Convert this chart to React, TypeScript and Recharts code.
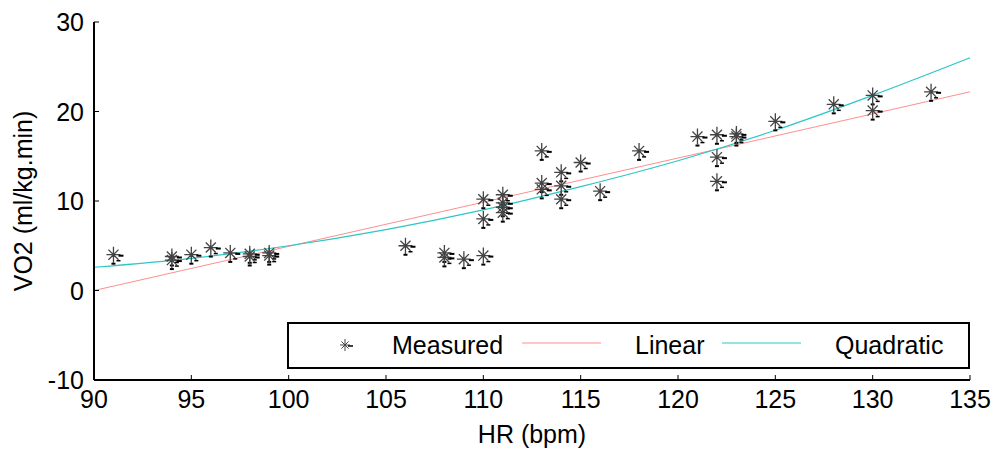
import { ComposedChart, Scatter, Line, XAxis, YAxis, Legend, Label } from "recharts";

// measured points (HR in bpm, VO2 in ml/kg.min)
const hrMeasured = [91, 94, 94, 95, 96, 97, 98, 98, 99, 99, 106, 108, 108, 109, 110, 110, 110, 111, 111, 111, 111, 113, 113, 113, 114, 114, 114, 115, 116, 118, 121, 122, 122, 122, 123, 123, 125, 128, 130, 130, 133];
const vo2Measured = [4.0, 3.8, 3.4, 4.0, 4.8, 4.2, 4.1, 3.8, 4.2, 3.9, 5.0, 4.2, 3.7, 3.5, 3.9, 10.2, 8.0, 10.7, 9.8, 9.3, 8.7, 15.6, 12.0, 11.3, 13.2, 11.7, 10.2, 14.3, 11.1, 15.6, 17.2, 17.4, 14.9, 12.2, 17.5, 17.2, 18.9, 20.8, 21.8, 20.1, 22.2];

// fitted curves
const linearHr = [90, 135];
const linearVo2 = [0.0, 22.2];
const quadHr = [90, 95, 100, 105, 110, 115, 120, 125, 130, 135];
const quadVo2 = [2.6, 3.6, 5.0, 6.8, 9.0, 11.6, 14.5, 17.9, 21.8, 26.0];

const xTicks = [90, 95, 100, 105, 110, 115, 120, 125, 130, 135];
const yTicks = [-10, 0, 10, 20, 30];

const measured = hrMeasured.map((x, i) => ({ x, y: vo2Measured[i] }));
const linear = linearHr.map((x, i) => ({ x, y: linearVo2[i] }));
const quadratic = quadHr.map((x, i) => ({ x, y: quadVo2[i] }));

const FONT = '"Liberation Sans", Arial, sans-serif';
const RED = "#ff8e8e";
const CYAN = "#2cc6c6";

const BottomTick = ({ x, y, payload }: any) => (
  <g>
    <line x1={x} x2={x} y1={y} y2={y - 5} stroke="#000" />
    <text x={x} y={y + 28} textAnchor="middle" fontSize={25} fill="#000" fontFamily={FONT}>
      {payload.value}
    </text>
  </g>
);

const LeftTick = ({ x, y, payload }: any) => (
  <g>
    <line x1={x} x2={x + 5} y1={y} y2={y} stroke="#000" />
    <text x={x - 10} y={y + 9} textAnchor="end" fontSize={25} fill="#000" fontFamily={FONT}>
      {payload.value}
    </text>
  </g>
);

const TopTick = ({ x, y }: any) => <line x1={x} x2={x} y1={y} y2={y + 5} stroke="#000" />;
const RightTick = ({ x, y }: any) => <line x1={x} x2={x - 5} y1={y} y2={y} stroke="#000" />;

function starPath(cx: number, cy: number, r: number) {
  const d = r * 0.72;
  return `M${cx - r},${cy}H${cx + r}M${cx},${cy - r - 1}V${cy + r + 1}M${cx - d},${cy - d}L${cx + d},${cy + d}M${cx - d},${cy + d}L${cx + d},${cy - d}`;
}

const StarMarker = ({ cx, cy }: any) => (
  <g>
    <path d={starPath(cx, cy, 7)} stroke="#444" strokeWidth={1.3} fill="none" />
    <line x1={cx + 5} x2={cx + 10} y1={cy + 1} y2={cy + 1} stroke="#000" strokeWidth={2} />
    <line x1={cx - 2} x2={cx + 2} y1={cy + 9} y2={cy + 9} stroke="#000" strokeWidth={2} />
    <line x1={cx + 3} x2={cx + 7} y1={cy + 6} y2={cy + 6} stroke="#000" strokeWidth={1.5} />
  </g>
);

const LegendBox = () => (
  <svg width={683} height={47} style={{ display: "block" }}>
    <rect x={1} y={1} width={681} height={45} fill="#fff" stroke="#000" strokeWidth={2} />
    <path d={starPath(58, 23, 5)} stroke="#444" strokeWidth={1} fill="none" />
    <line x1={61} x2={66} y1={24} y2={24} stroke="#000" strokeWidth={1.5} />
    <text x={105} y={32} fontSize={25} fontFamily={FONT} fill="#000">Measured</text>
    <line x1={235} x2={314} y1={21} y2={21} stroke={RED} strokeWidth={1} />
    <text x={348} y={32} fontSize={25} fontFamily={FONT} fill="#000">Linear</text>
    <line x1={435} x2={514} y1={21} y2={21} stroke={CYAN} strokeWidth={1} />
    <text x={548} y={32} fontSize={25} fontFamily={FONT} fill="#000">Quadratic</text>
  </svg>
);

const YLabel = ({ viewBox }: any) => {
  const cx = 23;
  const cy = viewBox.y + viewBox.height / 2;
  return (
    <text
      x={cx}
      y={cy}
      transform={`rotate(-90 ${cx} ${cy})`}
      textAnchor="middle"
      dominantBaseline="central"
      fontSize={25}
      fontFamily={FONT}
      fill="#000"
    >
      VO2 (ml/kg.min)
    </text>
  );
};

export default function App() {
  return (
    <div style={{ position: "absolute", left: 0, top: 0, width: 993, height: 450, background: "#fff" }}>
      <ComposedChart width={993} height={450} margin={{ top: 22, right: 23, bottom: 0, left: 0 }}>
        <XAxis
          dataKey="x"
          type="number"
          domain={[90, 135]}
          ticks={xTicks}
          height={70}
          tickSize={0}
          tickMargin={0}
          tick={<BottomTick />}
          axisLine={{ stroke: "#000", strokeWidth: 2 }}
          interval={0}
        >
          <Label value="HR (bpm)" position="insideBottom" offset={7} fontSize={25} fontFamily={FONT} fill="#000" />
        </XAxis>
        <XAxis
          xAxisId="top"
          orientation="top"
          dataKey="x"
          type="number"
          domain={[90, 135]}
          ticks={xTicks}
          height={0}
          tickSize={0}
          tickMargin={0}
          tick={<TopTick />}
          axisLine={{ stroke: "#000", strokeWidth: 1 }}
          interval={0}
        />
        <YAxis
          dataKey="y"
          type="number"
          domain={[-10, 30]}
          ticks={yTicks}
          width={94}
          tickSize={0}
          tickMargin={0}
          tick={<LeftTick />}
          axisLine={{ stroke: "#000", strokeWidth: 2 }}
          interval={0}
        >
          <Label content={<YLabel />} />
        </YAxis>
        <YAxis
          yAxisId="right"
          orientation="right"
          dataKey="y"
          type="number"
          domain={[-10, 30]}
          ticks={yTicks}
          width={0}
          tickSize={0}
          tickMargin={0}
          tick={<RightTick />}
          axisLine={{ stroke: "#000", strokeWidth: 1.5 }}
          interval={0}
        />
        <Line data={linear} dataKey="y" type="linear" stroke={RED} strokeWidth={1} dot={false} isAnimationActive={false} />
        <Line data={quadratic} dataKey="y" type="monotone" stroke={CYAN} strokeWidth={1.2} dot={false} isAnimationActive={false} />
        <Scatter data={measured} dataKey="y" shape={<StarMarker />} isAnimationActive={false} />
        <Legend
          layout="horizontal"
          verticalAlign="middle"
          align="center"
          content={<LegendBox />}
          wrapperStyle={{ position: "absolute", left: 287, top: 322, width: 683, height: 47 }}
        />
      </ComposedChart>
    </div>
  );
}
